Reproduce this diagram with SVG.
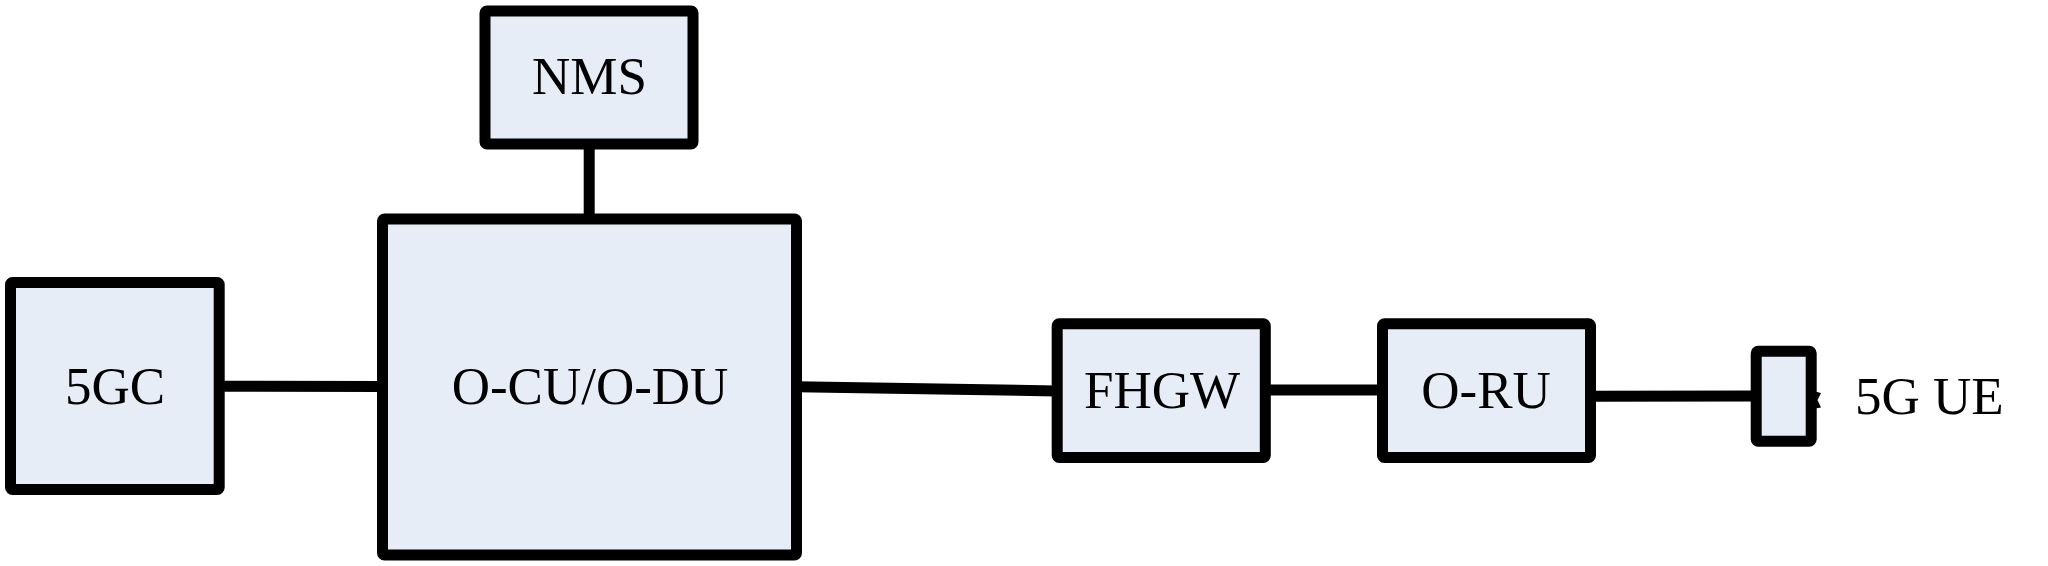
<svg xmlns="http://www.w3.org/2000/svg" width="2048" height="566" viewBox="0 0 2048 566">
<style>
.box{fill:#e6edf7;stroke:#000;stroke-width:11;stroke-linejoin:round}
.lbl{font-family:"Liberation Serif","Times New Roman",serif;font-size:53px;fill:#000;text-anchor:middle}
.edge{fill:none;stroke:#000;stroke-width:11;stroke-linecap:butt}
</style>
<rect width="2048" height="566" fill="#fff"/>
<g id="connectors">
<path class="edge" d="M589.2,143.7 L589.2,219"/>
<path class="edge" d="M219.2,386.3 L382.5,386.5"/>
<path class="edge" d="M796.5,386.7 L1057.2,391"/>
<path class="edge" d="M1265.3,390 L1382.5,390"/>
<path class="edge" d="M1590.5,396.2 L1756.2,396"/>
<path d="M1815,391.5 L1821,393 L1817.5,400 L1821,407.5 L1815,408.5 Z" fill="#000"/>
</g>
<g id="nms">
<rect class="box" x="485" y="11" width="208" height="133" rx="2"/>
<text class="lbl" x="589.5" y="94">NMS</text>
</g>
<g id="ocu-odu">
<rect class="box" x="382.5" y="219" width="414" height="336" rx="2"/>
<text class="lbl" x="590" y="404">O-CU/O-DU</text>
</g>
<g id="g5gc">
<rect class="box" x="10.5" y="282.5" width="208.7" height="207" rx="2"/>
<text class="lbl" x="115" y="404">5GC</text>
</g>
<g id="fhgw">
<rect class="box" x="1057.2" y="323.8" width="208.1" height="133.7" rx="2"/>
<text class="lbl" x="1162" y="408.3">FHGW</text>
</g>
<g id="oru">
<rect class="box" x="1382.5" y="323.8" width="208" height="133.7" rx="2"/>
<text class="lbl" x="1486" y="408.3">O-RU</text>
</g>
<g id="ue">
<rect class="box" x="1756.2" y="351.2" width="55" height="90" rx="2"/>
<text class="lbl" x="1855" y="414" style="text-anchor:start">5G UE</text>
</g>
</svg>
